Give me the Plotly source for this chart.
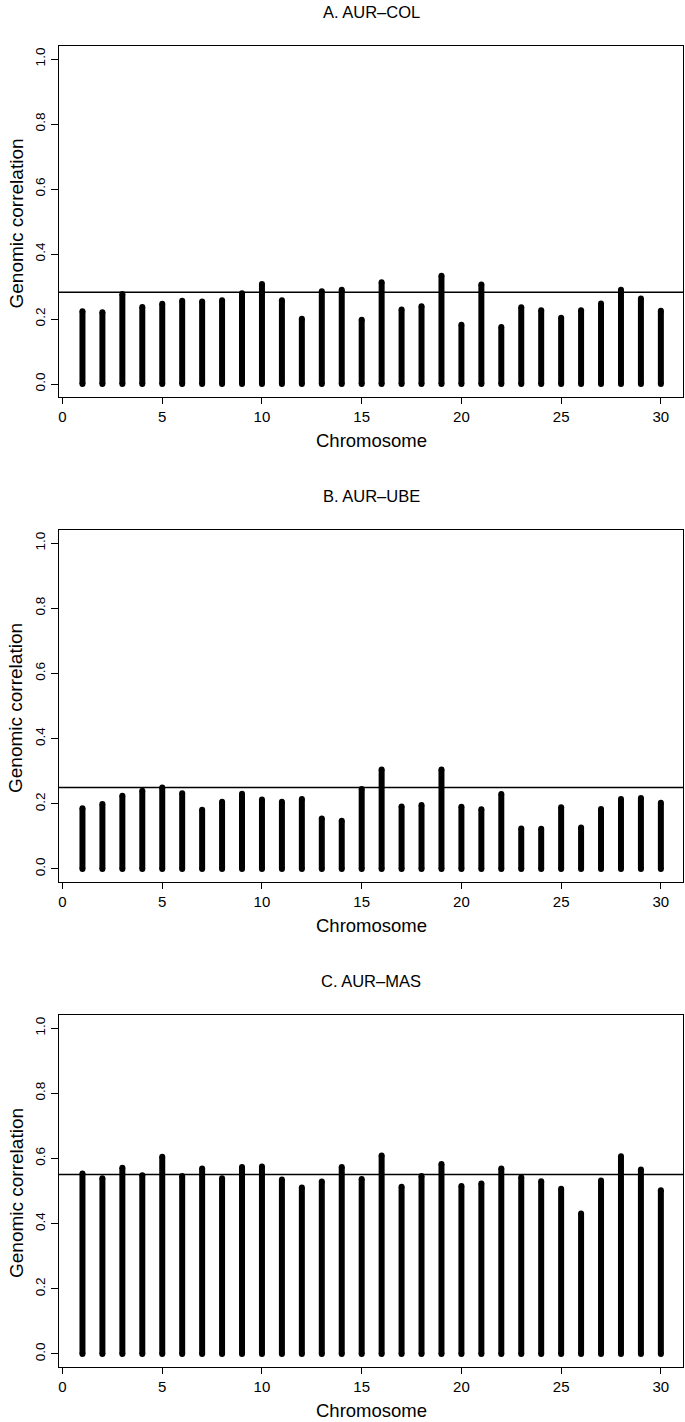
import plotly.graph_objects as go

chromosomes = list(range(1, 31))

aur_col = [0.224, 0.221, 0.277, 0.237, 0.247, 0.256, 0.254, 0.258, 0.279, 0.308,
           0.258, 0.201, 0.285, 0.290, 0.198, 0.313, 0.229, 0.239, 0.333, 0.182,
           0.306, 0.175, 0.236, 0.227, 0.204, 0.227, 0.248, 0.290, 0.263, 0.225]
aur_ube = [0.186, 0.199, 0.225, 0.240, 0.250, 0.232, 0.182, 0.206, 0.231, 0.213,
           0.206, 0.215, 0.155, 0.148, 0.245, 0.305, 0.192, 0.196, 0.305, 0.191,
           0.183, 0.230, 0.124, 0.123, 0.189, 0.127, 0.184, 0.215, 0.218, 0.203]
aur_mas = [0.554, 0.539, 0.571, 0.548, 0.605, 0.546, 0.569, 0.539, 0.574, 0.575,
           0.535, 0.511, 0.529, 0.574, 0.537, 0.609, 0.513, 0.546, 0.583, 0.515,
           0.523, 0.569, 0.542, 0.530, 0.507, 0.431, 0.532, 0.607, 0.566, 0.502]

genome_wide = [0.282, 0.250, 0.551]
titles = ["A. AUR\u2013COL", "B. AUR\u2013UBE", "C. AUR\u2013MAS"]
series = [aur_col, aur_ube, aur_mas]

x_ticks = [0, 5, 10, 15, 20, 25, 30]
y_ticks = [0.0, 0.2, 0.4, 0.6, 0.8, 1.0]

W, H = 685, 1422
ML, MR = 59, 2
frames = [(46, 397), (530, 882), (1015, 1367)]
MT = frames[0][0]
MB = H - frames[2][1]
PH = H - MT - MB
PW = W - ML - MR

def py(px):
    return (H - MB - px) / PH

def pxx(px):
    return (px - ML) / PW

FONT = "Liberation Sans, Arial, sans-serif"
fig = go.Figure()
annotations = []
shapes = []
for i, (vals, title, gw, (ft, fb)) in enumerate(zip(series, titles, genome_wide, frames)):
    n = i + 1
    sfx = "" if n == 1 else str(n)
    xs, ys = [], []
    for c, v in zip(chromosomes, vals):
        xs += [c, c, None]
        ys += [0, v, None]
    fig.add_trace(go.Scatter(
        x=xs, y=ys, mode="lines+markers",
        line=dict(color="black", width=6),
        marker=dict(color="black", size=6, line=dict(width=0)),
        xaxis=f"x{sfx}", yaxis=f"y{sfx}", showlegend=False, hoverinfo="skip"))
    shapes.append(dict(type="line", xref=f"x{sfx} domain", yref=f"y{sfx}",
                       x0=0, x1=1, y0=gw, y1=gw,
                       line=dict(color="black", width=1.5)))
    dom = [py(fb), py(ft)]
    axis_common = dict(showline=True, linecolor="black", linewidth=1.3, mirror=True,
                       showgrid=False, zeroline=False, ticks="outside",
                       tickcolor="black", tickwidth=1.3)
    fig.layout[f"xaxis{sfx}"] = dict(
        axis_common, domain=[0, 1], anchor=f"y{sfx}", range=[-0.176, 31.11],
        tickmode="array", tickvals=x_ticks, ticktext=[str(t) for t in x_ticks],
        ticklen=6, tickfont=dict(family=FONT, size=15, color="black"))
    fig.layout[f"yaxis{sfx}"] = dict(
        axis_common, domain=dom, anchor=f"x{sfx}", range=[-0.04, 1.04],
        tickmode="array", tickvals=y_ticks, ticktext=[f"{t:.1f}" for t in y_ticks],
        ticklen=7, tickangle=-90,
        tickfont=dict(family=FONT, size=13.5, color="black"))
    annotations.append(dict(text=title, xref="paper", yref="paper",
                            x=pxx(371), y=py(ft - 34), showarrow=False,
                            xanchor="center", yanchor="middle",
                            font=dict(family=FONT, size=16.5, color="black")))
    annotations.append(dict(text="Chromosome", xref="paper", yref="paper",
                            x=pxx(371), y=py(fb + 43), showarrow=False,
                            xanchor="center", yanchor="middle",
                            font=dict(family=FONT, size=18.5, color="black")))
    annotations.append(dict(text="Genomic correlation", xref="paper", yref="paper",
                            x=pxx(16), y=py((ft + fb) / 2 + 2), showarrow=False,
                            textangle=-90, xanchor="center", yanchor="middle",
                            font=dict(family=FONT, size=19, color="black")))

fig.update_layout(width=W, height=H, margin=dict(l=ML, r=MR, t=MT, b=MB, autoexpand=False),
                  paper_bgcolor="white", plot_bgcolor="white",
                  annotations=annotations, shapes=shapes)
fig.write_html("out.html", config={"displayModeBar": False},
               post_script="document.body.style.margin='0';document.body.style.overflow='hidden';")
